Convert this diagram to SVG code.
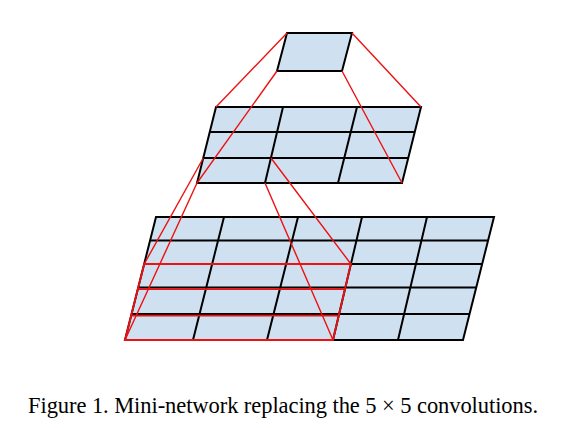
<svg xmlns="http://www.w3.org/2000/svg" width="566" height="428" viewBox="0 0 566 428">
<style>
.cell{fill:#cfe0f1;stroke:#000;stroke-width:2;stroke-linejoin:miter}
.bl{stroke:#000;stroke-width:2;fill:none}
.rd{stroke:#ee1111;stroke-width:1.4;fill:none}
.cap{font-family:"Liberation Serif","Times New Roman",serif;font-size:22.5px;fill:#000}
</style>
<rect width="566" height="428" fill="#fff"/>
<g id="layer-bottom">
<polygon class="cell" points="156,217 494,217 463,340 125,340"/>
<path class="bl" d="M150.1,240.5H488.1M144.2,264H482.2M138.2,287.5H476.2M131.6,314H469.6M224,217L193,340M298,217L267,340M362,217L333,340M427,217L398,340"/>
</g>
<g id="layer-middle">
<polygon class="cell" points="216,107 421,107 402,183 197,183"/>
<path class="bl" d="M209.75,132H414.75M203.25,158H408.25M283,107L265,183M357,107L338,183"/>
</g>
<g id="layer-top">
<polygon class="cell" points="287,33 352,33 342,71 277,71"/>
</g>
<g id="connectors">
<path class="rd" d="M287,33L216,107M352,33L421,107M277,71L197,183M342,71L402,183"/>
<path class="rd" d="M203.3,158L144.2,264M271,158L350.9,264M197,183L125,340M265,183L333,340"/>
<path class="rd" d="M144.2,264H350.9L333,340H125Z" style="stroke-width:1.8"/>
<path class="rd" d="M137.9,289.2H345M131.2,315.6H338.8" style="stroke-width:1.8"/>
</g>
<text class="cap" x="28" y="413" textLength="510" lengthAdjust="spacing">Figure 1. Mini-network replacing the 5 × 5 convolutions.</text>
</svg>
